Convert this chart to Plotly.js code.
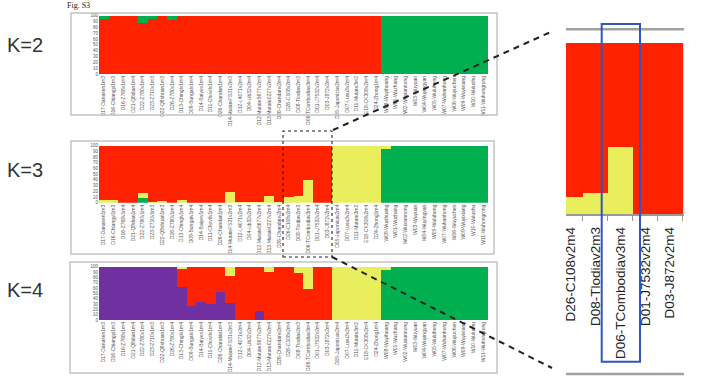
<!DOCTYPE html>
<html><head><meta charset="utf-8">
<script src="https://cdn.plot.ly/plotly-3.0.1.min.js"></script>
<style>html,body{margin:0;padding:0;background:#fff}#chart{width:701px;height:390px}</style>
</head><body><div id="chart"></div>
<script>
const samples = [
 'D17-Danasen1m3','D16-Chiangyi1m3','D16-Z768v1m4','D21-Q8dian1m4','D22-Z780v1m4',
 'D23-Z710v1m3','D22-Q8shuan1m3','D26-Z780v1m4','D13-Chinglv1m4','D09-Bungalv1m4',
 'D14-Baiyev1m4','D11-Chovilv1m4','D26-Chandan1m4','D14-MutateFS31v2m3','D12-L4071v2m4',
 'D04-Lib32v2m4','D12-Mutate5677v2m4','D13-Mutate0227v2m4','D26-Chandanv2m4','D26-C108v2m4',
 'D08-Tlodiav2m3','D06-TCombodiav3m4','D01-J7532v2m4','D03-J872v2m4','D05-Japonicav2m4',
 'D07-Lusu3v2m4','D11-Mutate3m2','E18-CK308v2m4','D24-Zhong1m4','W08-Wuyihuang',
 'W01-Wuzhang','W02-Wuxiannong','W03-Wuyuan','W04-Wuyingyan','W05-Wuluheng',
 'W07-Wuhanhong','W06-Wuyuchen','W09-Wuyixiang','W10-Wulushu','W11-Wuhongrong'
];
const yTicks = [0,10,20,30,40,50,60,70,80,90,100];

// K=2
const k2Green = [6,0,0,0,13,6,0,7,0,0, 0,0,0,0,0,0,0,0,0,0, 0,0,0,0,0,0,0,0,0,100, 100,100,100,100,100,100,100,100,100,100];
const k2Red   = [94,100,100,100,87,94,100,93,100,100, 100,100,100,100,100,100,100,100,100,100, 100,100,100,100,100,100,100,100,100,0, 0,0,0,0,0,0,0,0,0,0];
// K=3
const k3Green  = [0,0,0,0,9,0,0,0,0,0, 0,0,0,0,0,0,0,0,0,0, 0,0,0,0,0,0,0,0,0,94, 100,100,100,100,100,100,100,100,100,100];
const k3Yellow = [4,4,0,0,8,2,3,0,5,0, 0,0,0,18,1,1,2,12,1,10, 12,39,0,0,100,100,100,100,100,6, 0,0,0,0,0,0,0,0,0,0];
const k3Red    = [96,96,100,100,83,98,97,100,95,100, 100,100,100,82,99,99,98,88,99,90, 88,61,100,100,0,0,0,0,0,0, 0,0,0,0,0,0,0,0,0,0];
// K=4
const k4Purple = [100,100,100,100,100,100,100,100,61,27, 33,30,53,31,0,0,16,0,0,0, 0,0,0,0,0,0,0,0,0,0, 0,0,0,0,0,0,0,0,0,0];
const k4Green  = [0,0,0,0,0,0,0,0,0,0, 0,0,0,0,0,0,0,0,0,0, 0,0,0,0,0,0,0,0,0,94, 100,100,100,100,100,100,100,100,100,100];
const k4Red    = [0,0,0,0,0,0,0,0,35,73, 67,70,47,51,100,100,84,91,100,100, 88,59,100,100,0,0,0,0,0,0, 0,0,0,0,0,0,0,0,0,0];
const k4Yellow = [0,0,0,0,0,0,0,0,4,0, 0,0,0,18,0,0,0,9,0,0, 12,41,0,0,100,100,100,100,100,6, 0,0,0,0,0,0,0,0,0,0];

const W = 701, H = 390;
const px = x => x / W, py = y => 1 - y / H;
const C = {red:'#ff2200', green:'#00b050', yellow:'#e8ee5c', purple:'#7030a0'};
const FONT = 'Liberation Sans, Arial, sans-serif';

function bar(y, color, xa, ya) {
  return {type:'bar', x:samples, y:y, xaxis:xa, yaxis:ya,
    marker:{color:color, line:{width:0}}, hoverinfo:'skip', showlegend:false};
}
const data = [
  bar(k2Red, C.red, 'x', 'y'), bar(k2Green, C.green, 'x', 'y'),
  bar(k3Green, C.green, 'x2', 'y2'), bar(k3Yellow, C.yellow, 'x2', 'y2'), bar(k3Red, C.red, 'x2', 'y2'),
  bar(k4Purple, C.purple, 'x3', 'y3'), bar(k4Green, C.green, 'x3', 'y3'), bar(k4Red, C.red, 'x3', 'y3'), bar(k4Yellow, C.yellow, 'x3', 'y3'),
  bar(k3Green, C.green, 'x4', 'y4'), bar(k3Yellow, C.yellow, 'x4', 'y4'), bar(k3Red, C.red, 'x4', 'y4')
];

function mainX(anchor) {
  return {domain:[px(99), px(488)], anchor:anchor, type:'category', tickangle:-90,
    tickfont:{size:5, color:'#555', family:FONT}, ticks:'', showline:false,
    showgrid:false, zeroline:false, fixedrange:true};
}
function mainY(anchor, top, bottom) {
  return {domain:[py(bottom), py(top)], anchor:anchor, range:[0,100], tickvals:yTicks,
    ticksuffix:'%', tickfont:{size:4.5, color:'#555', family:FONT}, ticks:'',
    showgrid:false, zeroline:false, showline:false, fixedrange:true};
}

function line(x0,y0,x1,y1,color,width,dash){
  return {type:'line', xref:'paper', yref:'paper', x0:px(x0), y0:py(y0), x1:px(x1), y1:py(y1),
    line:{color:color, width:width, dash:dash||'solid'}};
}
function rect(x0,y0,x1,y1,color,width,dash){
  return {type:'rect', xref:'paper', yref:'paper', x0:px(x0), y0:py(y1), x1:px(x1), y1:py(y0),
    line:{color:color, width:width, dash:dash||'solid'}, fillcolor:'rgba(0,0,0,0)'};
}

const layout = {
  width:W, height:H, margin:{l:0,r:0,t:0,b:0}, paper_bgcolor:'#fff', plot_bgcolor:'rgba(0,0,0,0)',
  barmode:'stack', bargap:0, showlegend:false,
  xaxis: mainX('y'), yaxis: mainY('x', 15.7, 74),
  xaxis2: mainX('y2'), yaxis2: mainY('x2', 145.7, 202.7),
  xaxis3: mainX('y3'), yaxis3: mainY('x3', 266.7, 320),
  xaxis4: {domain:[px(566), px(684)], anchor:'y4', type:'category', range:[18.82, 23.56],
    tickson:'boundaries', ticks:'outside', ticklen:5, tickcolor:'#999', showline:true,
    linecolor:'#999', linewidth:1.5, tickangle:-90, showgrid:false, zeroline:false,
    ticklabelstandoff:6,
    tickfont:{size:13.5, color:'#222', family:FONT}, fixedrange:true},
  yaxis4: {domain:[py(214), py(42.7)], anchor:'x4', range:[0,100], showticklabels:false,
    showgrid:false, zeroline:false, showline:false, fixedrange:true},
  shapes: [
    rect(71,13,497,115,'#c4c4c4',1.5),
    rect(71,141,494,254,'#c4c4c4',1.5),
    rect(70,262,497,373,'#c4c4c4',1.5),
    rect(283,131,332,257,'#222',1.1,'dot'),
    line(333,130,553,31,'#222',2,'6px,5px'),
    line(332,257,552,368,'#222',2,'6px,5px'),
    line(566,29.3,684,29.3,'#a0a0a0',2.5),
    line(566,374,684,374,'#a0a0a0',2.5),
    rect(601.7,24,640,361.7,'#3355bb',2)
  ],
  annotations: [
    {xref:'paper', yref:'paper', x:px(65), y:py(6), xanchor:'left', yanchor:'middle', showarrow:false,
      text:'Fig. S3', font:{family:'Liberation Serif, Times New Roman, serif', size:8, color:'#222'}},
    {xref:'paper', yref:'paper', x:px(5), y:py(45), xanchor:'left', yanchor:'middle', showarrow:false,
      text:'K=2', font:{family:FONT, size:20, color:'#333'}},
    {xref:'paper', yref:'paper', x:px(5), y:py(170), xanchor:'left', yanchor:'middle', showarrow:false,
      text:'K=3', font:{family:FONT, size:20, color:'#333'}},
    {xref:'paper', yref:'paper', x:px(5), y:py(290), xanchor:'left', yanchor:'middle', showarrow:false,
      text:'K=4', font:{family:FONT, size:20, color:'#333'}}
  ]
};
Plotly.newPlot('chart', data, layout, {staticPlot:true, displayModeBar:false});
</script></body></html>
